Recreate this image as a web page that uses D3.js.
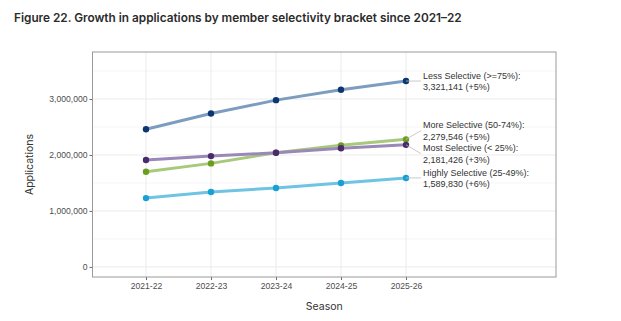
<!DOCTYPE html>
<html><head><meta charset="utf-8">
<script src="https://cdn.jsdelivr.net/npm/d3@7"></script>
<style>
html,body{margin:0;padding:0;background:#fff;}
svg{display:block;}
</style></head>
<body>
<svg id="chart" width="621" height="321"></svg>
<script>
const seasons = ["2021-22","2022-23","2023-24","2024-25","2025-26"];
const lessSelective   = [2460000, 2740000, 2980000, 3165000, 3321141];
const moreSelective   = [1700000, 1850000, 2040000, 2172000, 2279546];
const mostSelective   = [1910000, 1980000, 2040000, 2120000, 2181426];
const highlySelective = [1230000, 1340000, 1410000, 1500000, 1589830];
const seriesNames = ["Less Selective (>=75%)", "More Selective (50-74%)", "Most Selective (< 25%)", "Highly Selective (25-49%)"];
const growthLabels = ["+5%", "+5%", "+3%", "+6%"];
const lineColors = ["#7d9dbf", "#a8c97c", "#9a88b8", "#6fc3e3"];
const pointColors = ["#0c3670", "#6b9d1e", "#4a2a6c", "#17a1d3"];
const yTicks = [0, 1000000, 2000000, 3000000];
const yMinorTicks = [500000, 1500000, 2500000, 3500000];

const series = [lessSelective, moreSelective, mostSelective, highlySelective].map((v, i) => ({
  name: seriesNames[i], growth: growthLabels[i], values: v, line: lineColors[i], point: pointColors[i]
}));

const svg = d3.select("#chart");
const font = "'Liberation Sans', Arial, sans-serif";
const panel = {l: 92.5, r: 556, t: 52, b: 277};

// Title
const title = svg.append("text").attr("x", 14).attr("y", 22)
  .attr("font-family", "Inter, 'Open Sans', sans-serif").attr("font-weight", 600)
  .attr("font-size", 13).attr("fill", "#2b2b2b")
  .text("Figure 22. Growth in applications by member selectivity bracket since 2021\u201322");
const tw = title.node().getComputedTextLength();
title.attr("font-size", 13 * 448 / tw);

const y = d3.scaleLinear().domain([-180000, 3840000]).range([panel.b, panel.t]);
const step = 65;
const x = d3.scalePoint().domain(seasons).range([146, 146 + step * (seasons.length - 1)]);

const g = svg.append("g");
// gridlines
g.selectAll(".ymin").data(yMinorTicks).join("line")
  .attr("x1", panel.l).attr("x2", panel.r).attr("y1", d => y(d)).attr("y2", d => y(d))
  .attr("stroke", "#f3f3f3").attr("stroke-width", 0.8);
g.selectAll(".ymaj").data(yTicks).join("line")
  .attr("x1", panel.l).attr("x2", panel.r).attr("y1", d => y(d)).attr("y2", d => y(d))
  .attr("stroke", "#ebebeb").attr("stroke-width", 1);
g.selectAll(".xg").data(seasons).join("line")
  .attr("x1", d => x(d)).attr("x2", d => x(d)).attr("y1", panel.t).attr("y2", panel.b)
  .attr("stroke", "#ebebeb").attr("stroke-width", 1);

// axes
const yAxis = d3.axisLeft(y).tickValues(yTicks).tickFormat(d3.format(",")).tickSize(3).tickPadding(2);
const ya = svg.append("g").attr("transform", `translate(${panel.l},0)`).call(yAxis);
const xAxis = d3.axisBottom(x).tickSize(3).tickPadding(3);
const xa = svg.append("g").attr("transform", `translate(0,${panel.b})`).call(xAxis);
[ya, xa].forEach(a => {
  a.select(".domain").remove();
  a.selectAll(".tick line").attr("stroke", "#444").attr("stroke-width", 0.8);
  a.selectAll(".tick text").attr("font-family", font).attr("font-size", 8.6).attr("fill", "#4d4d4d");
});

// panel border
svg.append("rect").attr("x", panel.l).attr("y", panel.t)
  .attr("width", panel.r - panel.l).attr("height", panel.b - panel.t)
  .attr("fill", "none").attr("stroke", "#9a9a9a").attr("stroke-width", 1);

// lines
const line = d3.line().x((d, i) => x(seasons[i])).y(d => y(d));
series.forEach(s => {
  svg.append("path").datum(s.values).attr("d", line)
    .attr("fill", "none").attr("stroke", s.line).attr("stroke-width", 3).attr("stroke-linecap", "butt");
});
series.forEach(s => {
  svg.append("g").selectAll("circle").data(s.values).join("circle")
    .attr("cx", (d, i) => x(seasons[i])).attr("cy", d => y(d)).attr("r", 3.2).attr("fill", s.point);
});

// labels with simple repel
const last = seasons.length - 1;
const labs = series.map(s => ({s, py: y(s.values[last]), ly: y(s.values[last])}));
labs.sort((a, b) => a.py - b.py);
const gap = 23;
for (let it = 0; it < 50; it++) {
  for (let i = 1; i < labs.length; i++) {
    const d = labs[i].ly - labs[i - 1].ly;
    if (d < gap) {
      const push = (gap - d) / 2;
      labs[i].ly += push; labs[i - 1].ly -= push;
    }
  }
}
const lx = x(seasons[last]);
labs.forEach(l => {
  svg.append("line").attr("x1", lx).attr("y1", l.py).attr("x2", lx + 15).attr("y2", l.ly)
    .attr("stroke", "#bdbdbd").attr("stroke-width", 0.8);
  const t = svg.append("text").attr("x", lx + 17).attr("y", l.ly)
    .attr("font-family", font).attr("font-size", 9).attr("fill", "#333");
  t.append("tspan").attr("x", lx + 17).attr("dy", "-0.25em").text(l.s.name + ":");
  t.append("tspan").attr("x", lx + 17).attr("dy", "1.27em")
    .text(d3.format(",")(l.s.values[last]) + " (" + l.s.growth + ")");
});

// axis titles
svg.append("text").attr("transform", `translate(33,${(panel.t + panel.b) / 2}) rotate(-90)`)
  .attr("text-anchor", "middle").attr("font-family", "Inter, 'Open Sans', sans-serif").attr("font-size", 10.5)
  .attr("fill", "#333").text("Applications");
svg.append("text").attr("x", (panel.l + panel.r) / 2).attr("y", 310)
  .attr("text-anchor", "middle").attr("font-family", "Inter, 'Open Sans', sans-serif").attr("font-size", 10.5)
  .attr("fill", "#333").text("Season");
</script>
</body></html>
